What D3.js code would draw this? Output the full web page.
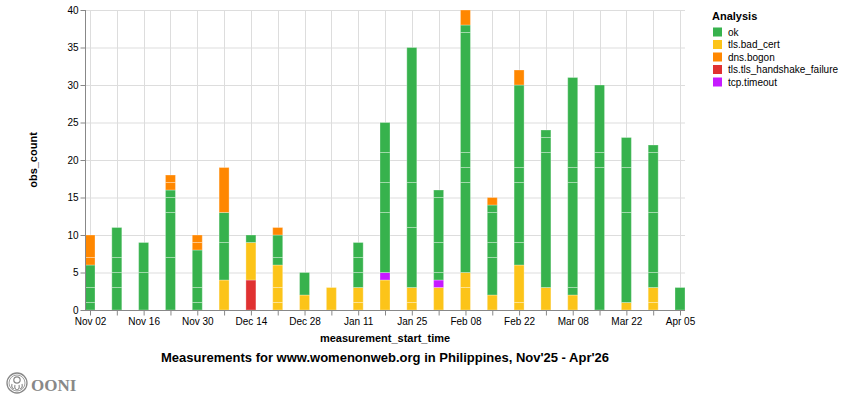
<!DOCTYPE html>
<html>
<head>
<meta charset="utf-8">
<script src="https://cdn.jsdelivr.net/npm/d3@7"></script>
<style>
  html, body { margin: 0; padding: 0; background: #fff; }
  svg { display: block; }
  text { font-family: "Liberation Sans", Helvetica, Arial, sans-serif; }
</style>
</head>
<body>
<svg id="chart" width="844" height="410"></svg>
<script>
// ---- data ----
const weeks = ["2025-11-02","2025-11-09","2025-11-16","2025-11-23","2025-11-30","2025-12-07","2025-12-14","2025-12-21","2025-12-28","2026-01-04","2026-01-11","2026-01-18","2026-01-25","2026-02-01","2026-02-08","2026-02-15","2026-02-22","2026-03-01","2026-03-08","2026-03-15","2026-03-22","2026-03-29","2026-04-05"];
const legendCategories = ["ok","tls.bad_cert","dns.bogon","tls.tls_handshake_failure","tcp.timeout"];
const legendColors = ["#37b24d","#fcc419","#ff8700","#e03131","#c61aff"];
// stack order, bottom to top
const stackOrder = ["tls.tls_handshake_failure","tls.bad_cert","tcp.timeout","ok","dns.bogon"];
// per-week records (each number is one record's obs_count)
const okSegs = [[1,2,3],[3,2,2,4],[5,4],[7,6,2,1],[1,2,5],[5,4],[1],[1,3],[3],[],[2,2,2],[8,4,4,4],[8,6,18],[1,4,6,1],[12,2,2,16,1],[5,2,4,1],[3,8,2,11],[18,2,1],[1,14,2,12],[19,2,9],[12,6,4],[2,8,8,1],[3]];
const badCertSegs = [[],[],[],[],[],[4],[5],[1,2,3],[2],[3],[1,2],[4],[1,2],[3],[3,2],[2],[1,5],[3],[2],[],[1],[1,2],[]];
const bogonSegs = [[1,3],[],[],[1,1],[1,1],[6],[],[1],[],[],[],[],[],[],[2],[1],[2],[],[],[],[],[],[]];
const handshakeSegs = [[],[],[],[],[],[],[4],[],[],[],[],[],[],[],[],[],[],[],[],[],[],[],[]];
const timeoutSegs = [[],[],[],[],[],[],[],[],[],[],[],[1],[],[1],[],[],[],[],[],[],[],[],[]];
const yTicks = [0,5,10,15,20,25,30,35,40];
const titleText = "Measurements for www.womenonweb.org in Philippines, Nov'25 - Apr'26";

const segsByCat = {
  "ok": okSegs, "tls.bad_cert": badCertSegs, "dns.bogon": bogonSegs,
  "tls.tls_handshake_failure": handshakeSegs, "tcp.timeout": timeoutSegs
};
const colorScale = d3.scaleOrdinal().domain(legendCategories).range(legendColors);

// ---- layout ----
const plot = {left: 85, right: 685, top: 10, bottom: 310};
const parse = d3.utcParse("%Y-%m-%d");
const dates = weeks.map(parse);
const x = d3.scaleUtc().domain([dates[0], dates[dates.length-1]]).range([plot.left + 5, plot.right - 5]);
const y = d3.scaleLinear().domain([0, 40]).range([plot.bottom, plot.top]);
const barW = 10;

const svg = d3.select("#chart");

// build records
const records = [];
dates.forEach((d, i) => {
  let acc = 0;
  stackOrder.forEach(cat => {
    segsByCat[cat][i].forEach(v => {
      records.push({date: d, cat, y0: acc, y1: acc + v});
      acc += v;
    });
  });
});

// gridlines
const grid = svg.append("g");
grid.selectAll("line.h").data(yTicks).join("line")
  .attr("x1", plot.left).attr("x2", plot.right)
  .attr("y1", d => y(d) + 0.5).attr("y2", d => y(d) + 0.5)
  .attr("stroke", "#ddd").attr("stroke-width", 1);
const xTickDates = d3.utcWeek.range(dates[0], d3.utcDay.offset(dates[dates.length-1], 1));
grid.selectAll("line.v").data(xTickDates).join("line")
  .attr("x1", d => Math.round(x(d)) + 0.5).attr("x2", d => Math.round(x(d)) + 0.5)
  .attr("y1", plot.top).attr("y2", plot.bottom)
  .attr("stroke", "#ddd").attr("stroke-width", 1);

// bars
svg.append("g").selectAll("rect").data(records).join("rect")
  .attr("x", d => x(d.date) - barW/2)
  .attr("width", barW)
  .attr("y", d => y(d.y1))
  .attr("height", d => y(d.y0) - y(d.y1))
  .attr("fill", d => colorScale(d.cat))
  .attr("stroke", "#ffffff")
  .attr("stroke-opacity", 0.3)
  .attr("stroke-width", 1);

// x axis
const xAxis = d3.axisBottom(x)
  .tickValues(xTickDates)
  .tickSize(5)
  .tickFormat((d, i) => i % 2 === 0 ? d3.utcFormat("%b %d")(d) : "");
const gx = svg.append("g").attr("transform", `translate(0,${plot.bottom + 0.5})`).call(xAxis);
gx.select(".domain").attr("d", `M${plot.left},0H${plot.right}`).attr("stroke", "#888");
gx.selectAll(".tick line").attr("stroke", "#888");
gx.selectAll(".tick text").attr("font-size", 10).attr("fill", "#000").attr("dy", "0.71em").attr("y", 7)
  .style("font-family", "Liberation Sans, Helvetica, Arial, sans-serif");

// y axis
const yAxis = d3.axisLeft(y).tickValues(yTicks).tickSize(5).tickPadding(2);
const gy = svg.append("g").attr("transform", `translate(${plot.left + 0.5},0)`).call(yAxis);
gy.select(".domain").attr("d", `M0,${plot.top}V${plot.bottom}`).attr("stroke", "#888");
gy.selectAll(".tick line").attr("stroke", "#888");
gy.selectAll(".tick text").attr("font-size", 10).attr("fill", "#000")
  .style("font-family", "Liberation Sans, Helvetica, Arial, sans-serif");

// axis titles
svg.append("text").attr("x", (plot.left + plot.right)/2).attr("y", 342)
  .attr("text-anchor", "middle").attr("font-size", 11).attr("font-weight", "bold")
  .text("measurement_start_time");
svg.append("text").attr("transform", `translate(37,${(plot.top + plot.bottom)/2}) rotate(-90)`)
  .attr("text-anchor", "middle").attr("font-size", 11).attr("font-weight", "bold")
  .text("obs_count");

// chart title
svg.append("text").attr("x", (plot.left + plot.right)/2).attr("y", 362)
  .attr("text-anchor", "middle").attr("font-size", 13).attr("font-weight", "bold")
  .text(titleText);

// legend
const lg = svg.append("g").attr("transform", "translate(712,0)");
lg.append("text").attr("x", 0).attr("y", 20).attr("font-size", 11).attr("font-weight", "bold").text("Analysis");
const items = lg.selectAll("g.item").data(legendCategories).join("g")
  .attr("transform", (d, i) => `translate(0,${32 + i * 12.5})`);
items.append("rect").attr("x", 1).attr("y", -4.5).attr("width", 9).attr("height", 9)
  .attr("fill", d => colorScale(d));
items.append("text").attr("x", 16).attr("y", 3.5).attr("font-size", 10).attr("fill", "#000").text(d => d);

// OONI logo
const logo = svg.append("g").attr("transform", "translate(17,383)");
logo.append("circle").attr("r", 10).attr("fill", "none").attr("stroke", "#888").attr("stroke-width", 1.3);
logo.append("circle").attr("r", 8).attr("fill", "none").attr("stroke", "#888").attr("stroke-width", 0.8);
logo.append("circle").attr("cy", -3).attr("r", 3.2).attr("fill", "none").attr("stroke", "#888").attr("stroke-width", 1.2);
logo.append("path").attr("d", "M-5,1 Q-6,5 -3,6 M-2,2 Q-3,6 0,7 M2,2 Q3,6 0,7 M5,1 Q6,5 3,6")
  .attr("fill", "none").attr("stroke", "#888").attr("stroke-width", 1.1);
svg.append("text").attr("x", 31).attr("y", 391).attr("font-size", 17).attr("font-weight", "bold")
  .attr("fill", "#888").style("font-family", "'Liberation Serif', 'DejaVu Serif', serif").text("OONI");
</script>
</body>
</html>
